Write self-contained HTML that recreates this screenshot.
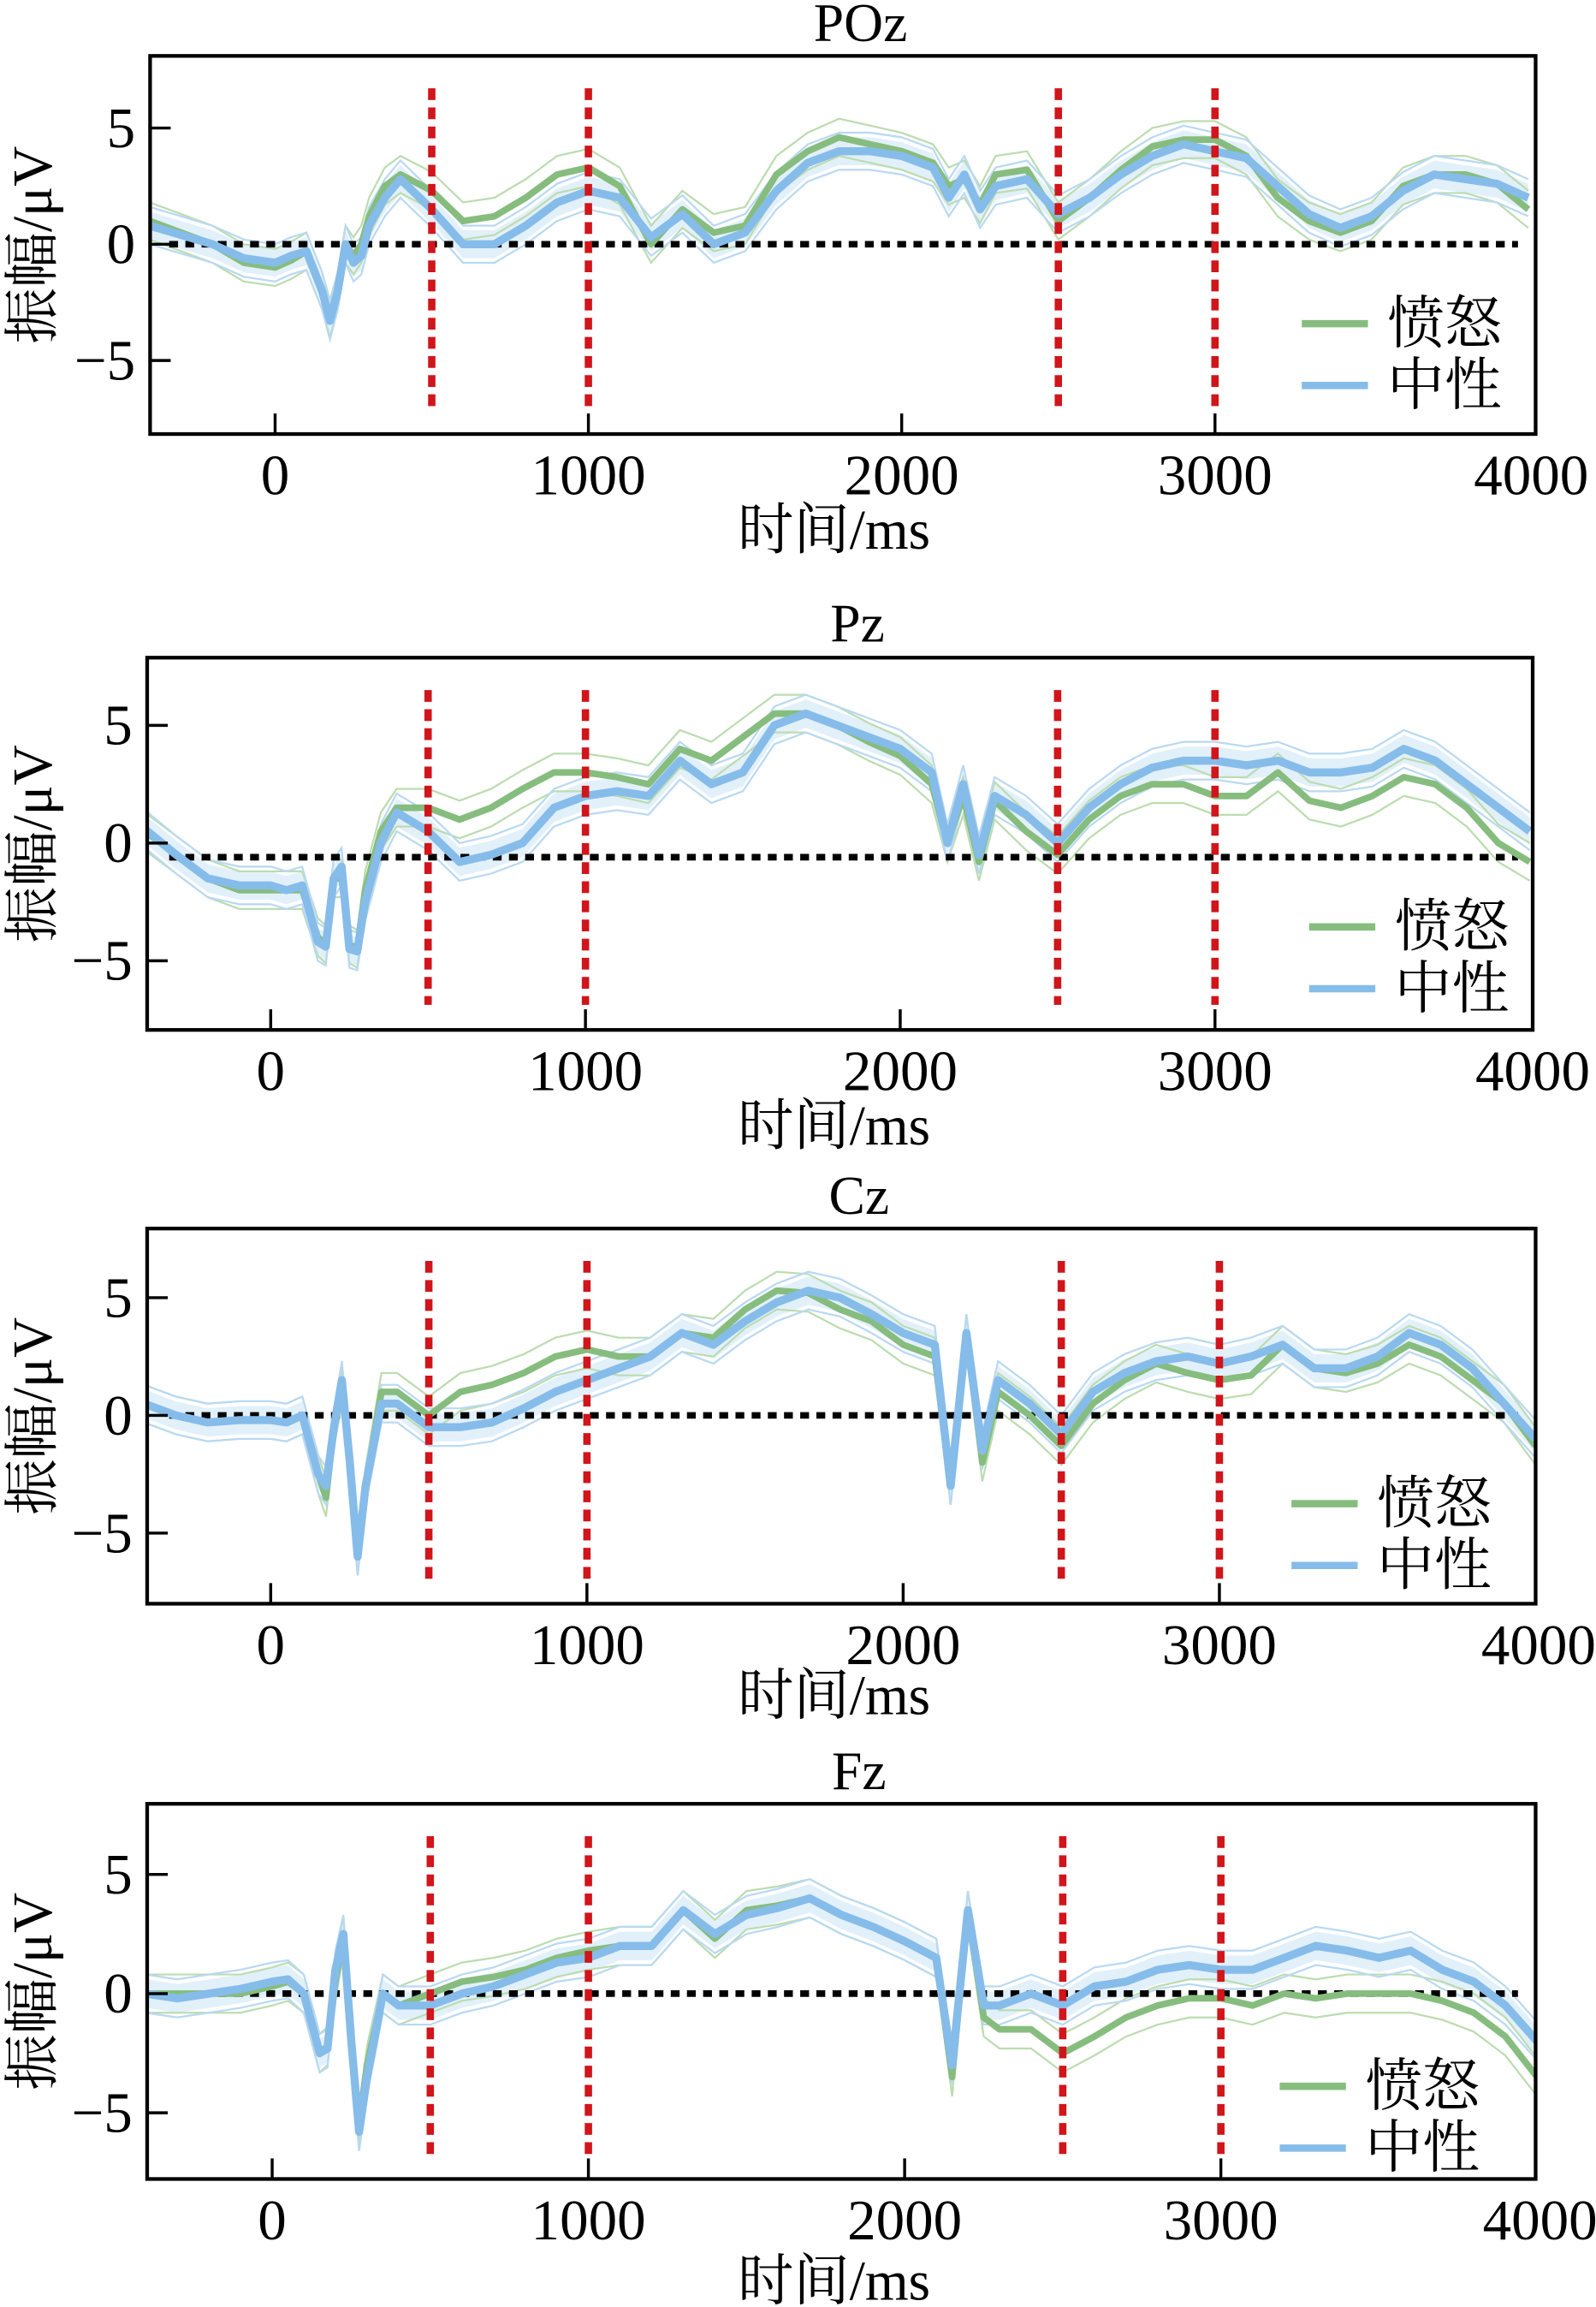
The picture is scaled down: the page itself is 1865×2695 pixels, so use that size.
<!DOCTYPE html>
<html><head><meta charset="utf-8"><style>
html,body{margin:0;padding:0;background:#fff}
svg{display:block}
text{font-family:"Liberation Serif","Noto Serif CJK SC",serif;fill:#000}
</style></head><body>
<svg id="chart" width="1865" height="2695" viewBox="0 0 1085 1568" xmlns="http://www.w3.org/2000/svg"></svg>
<script>
const times=[-400,-300,-200,-100,0,50,100,150,175,200,225,250,275,300,350,400,500,600,700,800,900,1000,1100,1200,1300,1400,1500,1600,1700,1800,1900,2000,2100,2150,2200,2250,2300,2400,2500,2600,2700,2800,2900,3000,3100,3200,3300,3400,3500,3600,3700,3800,3900,4000];
const channels=["POz","Pz","Cz","Fz"];
const xTicks=[0,1000,2000,3000,4000];
const yTicks=[5,0,-5];
const markers=[500,1000,2500,3000];
const pozAngry=[1,0.5,0,-0.8,-1,-0.7,-0.3,-2,-3.2,-2,0,-0.5,0,1.2,2.5,3,2.3,1,1.2,2,3,3.3,2.5,0,1.5,0.5,0.8,3,4,4.6,4.3,4,3.5,2.5,2.8,1.7,3,3.2,1,2,3.2,4.2,4.5,4.5,3.8,2,1,0.5,1,2.5,3,3,2.6,1.5];
const pozNeutral=[0.8,0.4,0,-0.6,-0.8,-0.5,-0.3,-2,-3.3,-2,0,-0.8,-0.5,0.8,2,2.8,1.5,0,0,0.8,1.8,2.3,2,0.3,1.3,0,0.5,2.3,3.5,4,4,3.8,3.3,2,3,1.5,2.5,2.8,1.3,2,3,3.8,4.3,4,3.7,2.5,1.3,0.7,1.2,2.3,3,2.8,2.6,2];
const pzAngry=[0.5,-0.5,-1.5,-2,-2,-2,-2,-4,-4.3,-1.5,-1.5,-4.3,-4.5,-2,0.5,1.5,1.5,1,1.5,2.3,3,3,2.8,2.5,4,3.5,4.5,5.5,5.5,5,4.3,3.7,2.5,0,2,-0.8,1.8,0.5,-0.5,1,2,2.5,2.5,2,2,3,1.8,1.5,2,2.8,2.5,1.5,0,-0.8];
const pzNeutral=[0.6,-0.5,-1.5,-1.8,-1.8,-2,-1.8,-4.2,-4.4,-1.5,-1,-4.5,-4.6,-2.5,0,1.3,0.5,-0.8,-0.5,0,1.5,2,2.2,2,3.5,2.5,3,5,5.5,5,4.5,4,3,0,2.5,-0.5,2,1.2,0,1.5,2.5,3.2,3.5,3.5,3.3,3.5,3,3,3.2,4,3.5,2.5,1.5,0.5];
const czAngry=[0.5,0,-0.3,-0.2,-0.2,-0.3,0,-2.5,-3.5,-0.5,1.2,-2,-6,-3,1,1,0,1,1.3,1.8,2.5,2.8,2.5,2.5,3.5,3.3,4.5,5.3,5.2,4.5,4,3,2.5,-3,3.5,-2,1,0,-1.3,0.5,1.5,2.2,1.8,1.5,1.7,3,2,1.8,2.2,3,2.5,1.5,0.5,-1.3];
const czNeutral=[0.5,0,-0.3,-0.2,-0.2,-0.3,0,-2.5,-3,-0.5,1.5,-2,-6,-3,0.5,0.5,-0.5,-0.5,-0.3,0.3,1,1.5,2,2.5,3.5,3,4,4.8,5.3,5,4.3,3.5,3,-3,3.5,-1.5,1.5,0.5,-0.8,1,1.8,2.3,2.5,2.2,2.5,3,2,2,2.5,3.5,3,2,0.5,-1];
const fzAngry=[0,0,0,0,0.3,0.5,0,-2.5,-2.2,0.5,2.5,-2,-5.5,-3,0,-0.5,0,0.5,0.7,1,1.5,1.8,2,2,3.5,2.3,3.5,3.7,4,3.3,2.8,2.2,1.5,-3.5,3.5,-1,-1.5,-1.5,-2.5,-1.8,-1,-0.5,-0.2,-0.2,-0.5,0,-0.2,0,0,0,-0.3,-0.8,-1.8,-3.5];
const fzNeutral=[0,-0.2,0,0.2,0.5,0.6,0,-2.5,-2.3,1,2.5,-2,-5.8,-3.5,0,-0.5,-0.5,0,0.3,0.8,1.3,1.5,2,2,3.5,2.5,3.3,3.6,4,3.3,2.8,2.2,1.5,-3,3.5,-0.5,-0.5,0,-0.5,0.3,0.5,1,1.2,1,1,1.5,2,1.8,1.5,1.8,1,0.5,-0.5,-2];
const angrySeries=[pozAngry,pzAngry,czAngry,fzAngry];
const neutralSeries=[pozNeutral,pzNeutral,czNeutral,fzNeutral];
const zeroLineVals=[0,-0.6,0,0];

const layouts=[
 {top:38,bottom:295,left:102,right:1044,x0:187,x1000:213,y5:87,y0:166,title:15,xl:360,lg:220,lx:885},
 {top:447,bottom:700,left:100,right:1042,x0:184,x1000:214,y5:493,y0:573,title:423,xl:765,lg:630,lx:890},
 {top:835,bottom:1090,left:100,right:1044,x0:184,x1000:215,y5:882,y0:962,title:812,xl:1152,lg:1022,lx:878},
 {top:1226,bottom:1481,left:100,right:1044,x0:185,x1000:215,y5:1274,y0:1355,title:1203,xl:1550,lg:1418,lx:870}];
const NS="http://www.w3.org/2000/svg";
const svg=document.getElementById('chart');
function mk(tag,attrs,parent){const e=document.createElementNS(NS,tag);for(const k in attrs)e.setAttribute(k,attrs[k]);(parent||svg).appendChild(e);return e;}
function pathOf(xs,ys){return xs.map((x,i)=>(i?'L':'M')+x.toFixed(1)+' '+ys[i].toFixed(1)).join(' ');}

channels.forEach((ch,p)=>{
 const L=layouts[p];
 const xs=t=>L.x0+t/1000*L.x1000;
 const ys=v=>L.y0-(L.y0-L.y5)*v/5;
 const g=mk('g',{});
 
 
 const clip=mk('clipPath',{id:'c'+p},g);
 mk('rect',{x:L.left,y:L.top,width:L.right-L.left,height:L.bottom-L.top},clip);
 const plot=mk('g',{'clip-path':'url(#c'+p+')'},g);
 const X=times.map(xs);
 const a=angrySeries[p], n=neutralSeries[p];
 const up=n.map(v=>ys(v+0.6)), dn=n.map(v=>ys(v-0.6));
 const band=mk('path',{d:pathOf(X,up)+' '+pathOf(X.slice().reverse(),dn.slice().reverse()).replace('M','L')+' Z',fill:'#d6e9f8',opacity:0.7},plot);
 
 
 [[a,'#bcdcb0'],[n,'#b9d9f2']].forEach(([s,c])=>{
  [0.8,-0.8].forEach(o=>{
   const l=mk('path',{d:pathOf(X,s.map(v=>ys(v+o))),fill:'none',stroke:c,'stroke-width':1.3},plot);
   
   
  });
 });
 const zl=mk('line',{x1:115,x2:1032,y1:ys(zeroLineVals[p]),y2:ys(zeroLineVals[p]),stroke:'#000','stroke-width':4.5,'stroke-dasharray':'6 5'},plot);
 
 
 const ga=mk('path',{d:pathOf(X,a.map(ys)),fill:'none',stroke:'#86bd7e','stroke-width':4.5,'stroke-linejoin':'round'},plot);
 
 
 const gn=mk('path',{d:pathOf(X,n.map(ys)),fill:'none',stroke:'#86bce9','stroke-width':5.5,'stroke-linejoin':'round'},plot);
 
 
 markers.forEach(m=>{
  const r=mk('line',{x1:xs(m),x2:xs(m),y1:L.top+22,y2:L.bottom-17,stroke:'#d0151b','stroke-width':5,'stroke-dasharray':'8 5'},g);
  
  
 });
 const box=mk('rect',{x:L.left,y:L.top,width:L.right-L.left,height:L.bottom-L.top,fill:'none',stroke:'#000','stroke-width':2.5},g);
 
 
 yTicks.forEach(v=>{
  mk('line',{x1:L.left,x2:L.left+14,y1:ys(v),y2:ys(v),stroke:'#000','stroke-width':2},g);
  const t=mk('text',{x:L.left-10,y:ys(v)+13,'text-anchor':'end','font-size':39},g);
  t.textContent=v<0?'\u2212'+(-v):String(v);
  
  
 });
 xTicks.forEach(v=>{
  if(v<4000) mk('line',{x1:xs(v),x2:xs(v),y1:L.bottom,y2:L.bottom-14,stroke:'#000','stroke-width':2},g);
  const t=mk('text',{x:xs(v)+(v==4000?2:0),y:L.bottom+41,'text-anchor':'middle','font-size':39},g);
  t.textContent=v;
  
  
 });
 const ti=mk('text',{x:(L.left+L.right)/2+12,y:L.title+13,'text-anchor':'middle','font-size':37},g);
 ti.textContent=ch;
 
 
 const xl=mk('text',{x:567,y:L.xl+13,'text-anchor':'middle','font-size':38},g);
 xl.textContent='时间/ms';
 
 
 const cy=(L.top+L.bottom)/2;
 const yl=mk('text',{x:0,y:0,'text-anchor':'middle','font-size':38,transform:'translate(35,'+cy+') rotate(-90)'},g);
 yl.textContent='振幅/μV';
 
 
 [['愤怒','#86bd7e',0],['中性','#86bce9',42]].forEach(([lab,c,dy])=>{
  const le=mk('g',{},g);
  
  
  mk('line',{x1:L.lx,x2:L.lx+45,y1:L.lg+dy,y2:L.lg+dy,stroke:c,'stroke-width':5},le);
  const t=mk('text',{x:L.lx+58,y:L.lg+dy+13,'font-size':39},le);
  t.textContent=lab;
 });
});
</script>
</body></html>
